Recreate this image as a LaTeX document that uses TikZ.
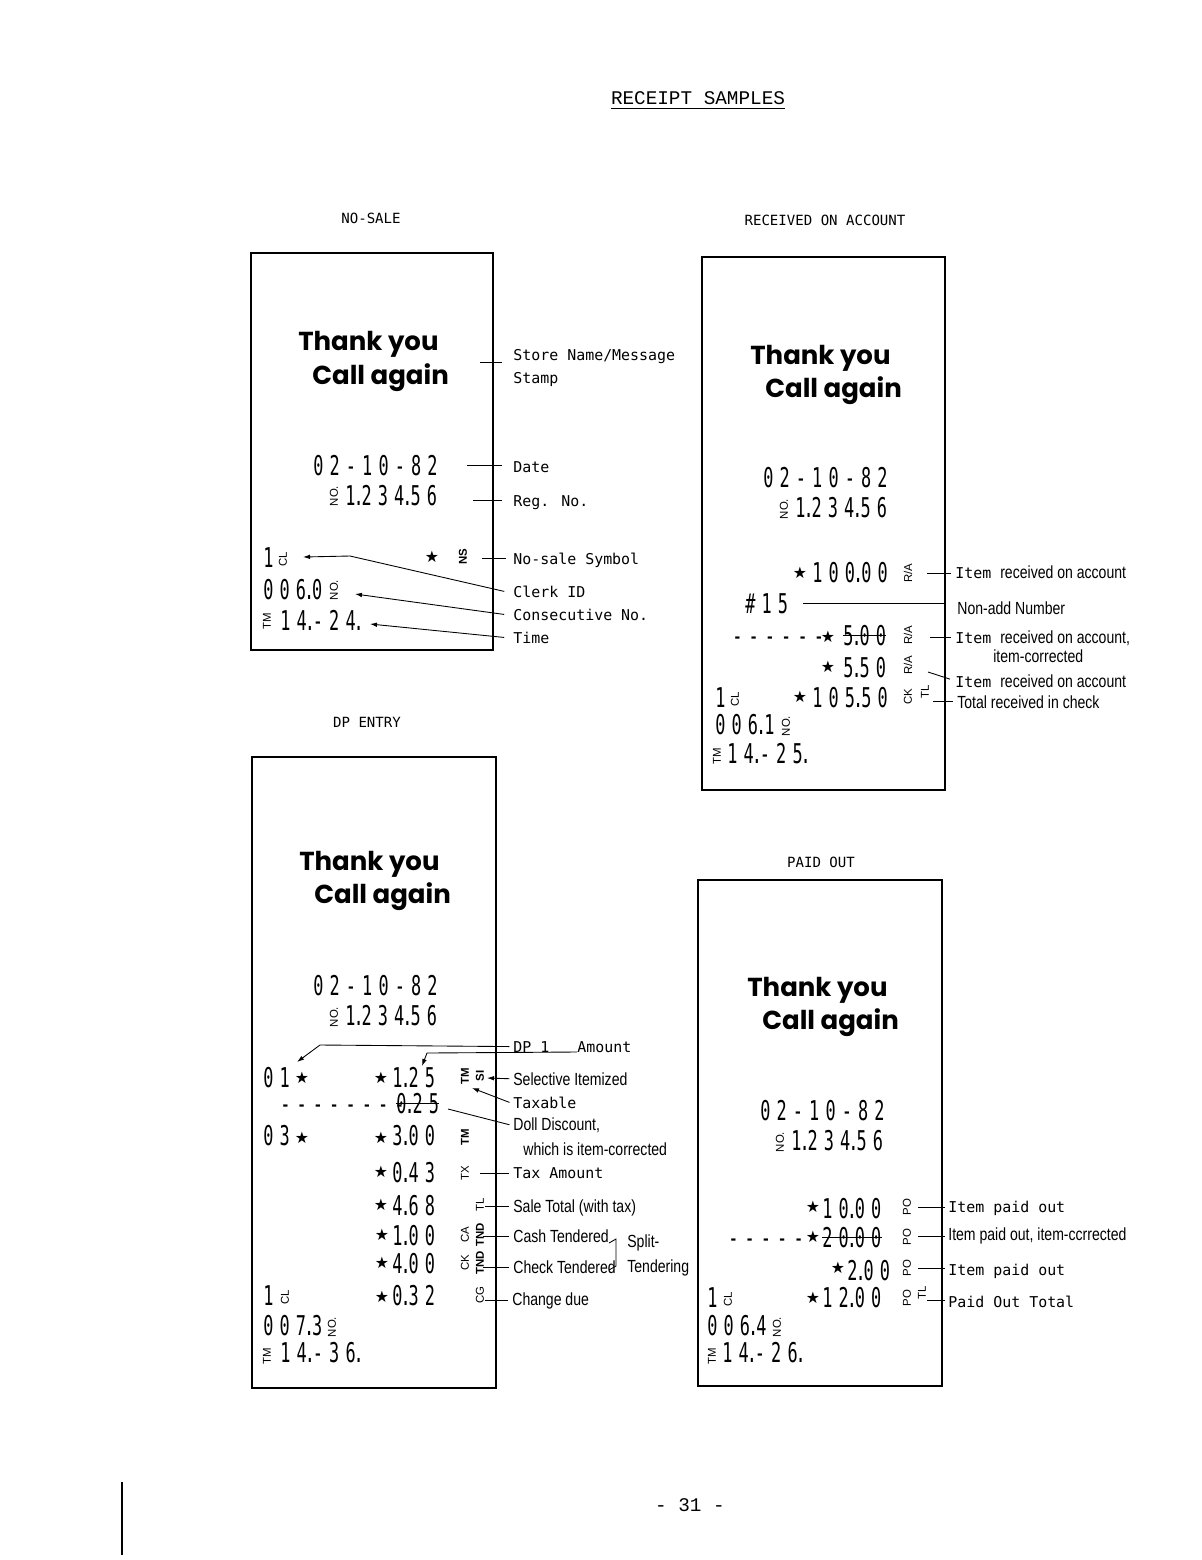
\documentclass[tikz,border=0pt]{standalone}
\usepackage{fontspec}
\usepackage{tikz}
\usetikzlibrary{positioning,arrows.meta}
\newfontfamily\lblfont{DejaVu Sans Mono}[Ligatures=TeXOff]
\newfontfamily\narrowfont{Liberation Sans}[FakeStretch=0.8]
\newfontfamily\rcptfont{DejaVu Sans Mono}[FakeStretch=0.62,LetterSpace=22.5,Ligatures=TeXOff]
\newfontfamily\msgfont{Poppins}
\newfontfamily\tagfont{Liberation Sans}
\newfontfamily\symfont{DejaVu Sans}
\newfontfamily\titlefont{Liberation Mono}[Ligatures=TeXOff]
\newcommand{\dt}{\makebox[3.5pt]{.}}
\newcommand{\nf}{\narrowfont\fontsize{10}{12}\selectfont}

\begin{document}
\begin{tikzpicture}[
            x=0.02cm, y=-0.02cm,
            rbox/.style={draw, line width=0.8pt},
            head/.style={font=\lblfont\fontsize{8}{10}\selectfont, inner sep=0pt},
            msg/.style={font=\msgfont\bfseries\fontsize{14.8}{16}\selectfont, anchor=base west, inner sep=0pt},
            rc/.style={font=\rcptfont\fontsize{15.5}{16}\selectfont, anchor=base west, inner sep=0pt},
            rstar/.style={font=\symfont\fontsize{9}{9}\selectfont, inner sep=0pt},
            vtag/.style={font=\tagfont\fontsize{6.5}{7}\selectfont, rotate=90, inner sep=0pt},
            btag/.style={vtag, font=\tagfont\bfseries\fontsize{6.5}{7}\selectfont},
            lbl/.style={font=\lblfont\fontsize{8.5}{11}\selectfont, anchor=base west, inner sep=0pt},
            nlbl/.style={font=\nf, anchor=base west, inner sep=0pt},
            tick/.style={line width=0.5pt},
            arr/.style={tick, -{Latex[length=4pt,width=2.6pt]}}
        ]
            \useasboundingbox (0,0) rectangle (1202,1560);

            \node[font=\titlefont\fontsize{11}{13}\selectfont, inner sep=0pt, anchor=base] (title) at (698,104) {RECEIPT SAMPLES};
            \draw[line width=0.7pt] ([yshift=-2.5pt]title.base west) -- ([yshift=-2.5pt]title.base east);
            \node[head] (hNoSale) at (371,218) {NO-SALE};
            \node[head] (hRA) at (825,220) {RECEIVED ON ACCOUNT};
            \node[head] (hDP) at (367,722) {DP ENTRY};
            \node[head] (hPO) at (821,862) {PAID OUT};

            % no-sale
            \draw[rbox] (251,253) rectangle (493,650);
            \node[msg] (ty1) at (298,350) {Thank you};
            \node[msg] (ca1) at (312,384) {Call again};
            \node[rc] (date1) at (313,475) {02-10-82};
            \node[vtag] (rno1) at (334,496) {NO.};
            \node[rc] (reg1) at (345,505) {1\dt234\dt56};
            \node[rc] (clk1) at (263,567) {1};
            \node[vtag] (cl1) at (283,559) {CL};
            \node[rstar] (sns1) at (432,557) {★};
            \node[btag] (ns1) at (463,557) {NS};
            \node[rc] (cons1) at (263,599) {006\dt0};
            \node[vtag] (no1) at (334,590) {NO.};
            \node[vtag] (tm1) at (267,621) {TM};
            \node[rc] (time1) at (280,630) {14\dt-24\dt};

            \node[lbl] (lbStore) at (513,360) {Store Name/Message};
            \node[lbl] (lbStamp) at (513,383) {Stamp};
            \node[lbl] (lbDate) at (513,472) {Date};
            \node[lbl] (lbReg) at (513,506) {Reg. No.};
            \node[lbl] (lbNS) at (513,564) {No-sale Symbol};
            \node[lbl] (lbClerk) at (513,597) {Clerk ID};
            \node[lbl] (lbCons) at (513,620) {Consecutive No.};
            \node[lbl] (lbTime) at (513,643) {Time};

            \coordinate (kStore) at (480,362);
            \coordinate (kDate) at (467,465);
            \coordinate (kReg) at (473,500);
            \coordinate (kNS) at (482,558);
            \coordinate (tipClerk) at (303,557);
            \coordinate (tipCons) at (355,594);
            \coordinate (tipTime) at (370,624);
            \draw[tick, shorten >=6pt] (kStore) -- (kStore -| lbStore.west);
            \draw[tick, shorten >=6pt] (kDate) -- (kDate -| lbDate.west);
            \draw[tick, shorten >=6pt] (kReg) -- (kReg -| lbReg.west);
            \draw[tick, shorten >=4pt] (kNS) -- (kNS -| lbNS.west);
            \draw[arr] ([xshift=-5pt]lbClerk.west) -- (350,556) -- (tipClerk);
            \draw[arr] ([xshift=-5pt]lbCons.west) -- (tipCons);
            \draw[arr] ([xshift=-5pt]lbTime.west) -- (tipTime);

            % received on account
            \draw[rbox] (702,257) rectangle (945,790);
            \node[msg] (ty2) at (750,364) {Thank you};
            \node[msg] (ca2) at (765,397) {Call again};
            \node[rc] (date2) at (763,487) {02-10-82};
            \node[vtag] (rno2) at (784,509) {NO.};
            \node[rc] (reg2) at (795,517) {1\dt234\dt56};
            \node[rstar] (s2a) at (800,573) {★};
            \node[rc] (amt2a) at (812,582) {100\dt00};
            \node[vtag] (ra2a) at (908,573) {R/A};
            \node[rc] (nadd2) at (745,613) {\#15};
            \node[rc] (dash2) at (732,645) {------};
            \node[rstar] (s2b) at (828,637) {★};
            \node[rc] (amt2b) at (843,645) {5\dt00};
            \draw[tick] (amt2b.west) -- (amt2b.east);
            \node[vtag] (ra2b) at (908,635) {R/A};
            \node[rstar] (s2c) at (828,667) {★};
            \node[rc] (amt2c) at (843,677) {5\dt50};
            \node[vtag] (ra2c) at (908,665) {R/A};
            \node[rc] (clk2) at (715,707) {1};
            \node[vtag] (cl2) at (735,699) {CL};
            \node[rstar] (s2d) at (800,697) {★};
            \node[rc] (amt2d) at (812,707) {105\dt50};
            \node[vtag] (ck2) at (908,697) {CK};
            \node[vtag] (tl2) at (925,692) {TL};
            \node[rc] (cons2) at (715,734) {006\dt1};
            \node[vtag] (no2) at (786,726) {NO.};
            \node[vtag] (tm2) at (717,756) {TM};
            \node[rc] (time2) at (727,763) {14\dt-25\dt};

            \node[lbl] (lbRA1) at (955,578) {Item \nf received on account};
            \node[nlbl] (lbNonAdd) at (957,614) {Non-add Number};
            \node[lbl] (lbRA2) at (955,643) {Item \nf received on account,};
            \node[nlbl] (lbRA2b) at (993,662) {item-corrected};
            \node[lbl] (lbRA3) at (955,687) {Item \nf received on account};
            \node[nlbl] (lbCheck) at (957,708) {Total received in check};

            \coordinate (kRA1) at (927,573);
            \coordinate (kRA2) at (930,637);
            \coordinate (kRA3) at (928,672);
            \coordinate (kCheck) at (933,701);
            \draw[tick, shorten >=2pt] (kRA1) -- (kRA1 -| lbRA1.west);
            \draw[tick, shorten <=8pt, shorten >=6pt] (nadd2.east) -- (nadd2.east -| lbNonAdd.west);
            \draw[tick, shorten >=2pt] (kRA2) -- (kRA2 -| lbRA2.west);
            \draw[tick, shorten >=3pt] (kRA3) -- (lbRA3.west);
            \draw[tick, shorten >=2pt] (kCheck) -- (kCheck -| lbCheck.west);

            % dp entry
            \draw[rbox] (252,757) rectangle (496,1388);
            \node[msg] (ty3) at (299,870) {Thank you};
            \node[msg] (ca3) at (314,903) {Call again};
            \node[rc] (date3) at (313,995) {02-10-82};
            \node[vtag] (rno3) at (334,1017) {NO.};
            \node[rc] (reg3) at (345,1025) {1\dt234\dt56};
            \node[rc] (dp01) at (263,1087) {01};
            \node[rstar] (s3a) at (302,1078) {★};
            \node[rstar] (s3b) at (381,1078) {★};
            \node[rc] (amt3a) at (392,1087) {1\dt25};
            \node[btag] (tm3a) at (465,1076) {TM};
            \node[btag] (si3) at (480,1076) {SI};
            \node[rc] (dash3) at (280,1113) {--------};
            \node[rc] (amt3b) at (396,1113) {0\dt25};
            \draw[tick] (amt3b.west) -- (amt3b.east);
            \node[rc] (dp03) at (263,1145) {03};
            \node[rstar] (s3c) at (302,1138) {★};
            \node[rstar] (s3d) at (381,1138) {★};
            \node[rc] (amt3c) at (392,1145) {3\dt00};
            \node[btag] (tm3b) at (465,1137) {TM};
            \node[rstar] (s3e) at (381,1172) {★};
            \node[rc] (amt3d) at (392,1182) {0\dt43};
            \node[vtag] (tx3) at (465,1173) {TX};
            \node[rstar] (s3f) at (381,1205) {★};
            \node[rc] (amt3e) at (392,1215) {4\dt68};
            \node[vtag] (tl3) at (480,1205) {TL};
            \node[rstar] (s3g) at (382,1235) {★};
            \node[rc] (amt3f) at (392,1245) {1\dt00};
            \node[vtag] (ca3t) at (465,1235) {CA};
            \node[btag] (tnd3a) at (480,1235) {TND};
            \node[rstar] (s3h) at (382,1263) {★};
            \node[rc] (amt3g) at (392,1273) {4\dt00};
            \node[vtag] (ck3) at (465,1263) {CK};
            \node[btag] (tnd3b) at (480,1263) {TND};
            \node[rc] (clk3) at (263,1305) {1};
            \node[vtag] (cl3) at (285,1297) {CL};
            \node[rstar] (s3i) at (382,1297) {★};
            \node[rc] (amt3h) at (392,1305) {0\dt32};
            \node[vtag] (cg3) at (480,1295) {CG};
            \node[rc] (cons3) at (263,1335) {007\dt3};
            \node[vtag] (no3) at (332,1327) {NO.};
            \node[vtag] (tm3c) at (267,1356) {TM};
            \node[rc] (time3) at (280,1362) {14\dt-36\dt};

            \node[lbl] (lbDP) at (513,1052) {DP 1};
            \node[lbl] (lbAmt) at (577,1052) {Amount};
            \node[nlbl] (lbSI) at (513,1085) {Selective Itemized};
            \node[lbl] (lbTax) at (513,1108) {Taxable};
            \node[nlbl] (lbDoll) at (513,1130) {Doll Discount,};
            \node[nlbl] (lbDoll2) at (523,1155) {which is item-corrected};
            \node[lbl] (lbTaxAmt) at (513,1178) {Tax Amount};
            \node[nlbl] (lbSale) at (513,1212) {Sale Total (with tax)};
            \node[nlbl] (lbCash) at (513,1242) {Cash Tendered};
            \node[nlbl] (lbCheck3) at (513,1273) {Check Tendered};
            \node[nlbl] (lbSplit) at (627,1247) {Split-};
            \node[nlbl] (lbTend) at (627,1272) {Tendering};
            \node[nlbl] (lbChange) at (512,1305) {Change due};

            \coordinate (tipDP) at (297,1062);
            \coordinate (tipAmt) at (422,1066);
            \coordinate (tipSI) at (487,1078);
            \coordinate (tipTax) at (472,1088);
            \coordinate (kDoll) at (448,1109);
            \coordinate (kTaxAmt) at (480,1173);
            \coordinate (kSale) at (485,1206);
            \coordinate (kCash) at (483,1236);
            \coordinate (kCheck3) at (483,1267);
            \coordinate (kChange) at (485,1300);
            \draw[arr] ([xshift=-2pt]lbDP.west) -- (320,1045) -- (tipDP);
            \draw[arr] (lbAmt.base west) -- (427,1053) -- (tipAmt);
            \draw[arr] ([xshift=-2pt]lbSI.west) -- (tipSI);
            \draw[arr] ([xshift=-2pt]lbTax.west) -- (tipTax);
            \draw[tick] (kDoll) -- ([xshift=-2pt]lbDoll.west);
            \draw[tick, shorten >=2pt] (kTaxAmt) -- (kTaxAmt -| lbTaxAmt.west);
            \draw[tick, shorten >=2pt] (kSale) -- (kSale -| lbSale.west);
            \draw[tick, shorten >=2pt] (kCash) -- (kCash -| lbCash.west);
            \draw[tick, shorten >=2pt] (kCheck3) -- (kCheck3 -| lbCheck3.west);
            \draw[tick, shorten >=2pt] (kChange) -- (kChange -| lbChange.west);
            \draw[tick] (609,1243) -- (616,1239) -- (616,1266) -- (609,1270);

            % paid out
            \draw[rbox] (698,880) rectangle (942,1386);
            \node[msg] (ty4) at (747,996) {Thank you};
            \node[msg] (ca4) at (762,1029) {Call again};
            \node[rc] (date4) at (760,1120) {02-10-82};
            \node[vtag] (rno4) at (780,1142) {NO.};
            \node[rc] (reg4) at (791,1150) {1\dt234\dt56};
            \node[rstar] (s4a) at (813,1207) {★};
            \node[rc] (amt4a) at (822,1218) {10\dt00};
            \node[vtag] (po4a) at (907,1207) {PO};
            \node[rc] (dash4) at (728,1247) {-----};
            \node[rstar] (s4b) at (813,1237) {★};
            \node[rc] (amt4b) at (822,1247) {20\dt00};
            \draw[tick] (amt4b.west) -- (amt4b.east);
            \node[vtag] (po4b) at (907,1237) {PO};
            \node[rstar] (s4c) at (838,1268) {★};
            \node[rc] (amt4c) at (847,1280) {2\dt00};
            \node[vtag] (po4c) at (907,1268) {PO};
            \node[rc] (clk4) at (707,1307) {1};
            \node[vtag] (cl4) at (728,1299) {CL};
            \node[rstar] (s4d) at (813,1298) {★};
            \node[rc] (amt4d) at (822,1307) {12\dt00};
            \node[vtag] (po4d) at (907,1298) {PO};
            \node[vtag] (tl4) at (922,1293) {TL};
            \node[rc] (cons4) at (707,1335) {006\dt4};
            \node[vtag] (no4) at (777,1327) {NO.};
            \node[vtag] (tm4) at (712,1356) {TM};
            \node[rc] (time4) at (722,1362) {14\dt-26\dt};

            \node[lbl] (lbPO1) at (948,1212) {Item paid out};
            \node[nlbl] (lbPO2) at (948,1240) {Item paid out, item-ccrrected};
            \node[lbl] (lbPO3) at (948,1275) {Item paid out};
            \node[lbl] (lbPOT) at (948,1307) {Paid Out Total};

            \coordinate (kPO1) at (918,1207);
            \coordinate (kPO2) at (918,1236);
            \coordinate (kPO3) at (918,1268);
            \coordinate (kPOT) at (927,1300);
            \draw[tick, shorten >=1.5pt] (kPO1) -- (kPO1 -| lbPO1.west);
            \draw[tick, shorten >=1.5pt] (kPO2) -- (kPO2 -| lbPO2.west);
            \draw[tick, shorten >=1.5pt] (kPO3) -- (kPO3 -| lbPO3.west);
            \draw[tick, shorten >=1.5pt] (kPOT) -- (kPOT -| lbPOT.west);

            \node[font=\titlefont\fontsize{11}{13}\selectfont, inner sep=0pt] (pg) at (690,1505) {- 31 -};
            \draw[line width=0.6pt] (122,1482) -- (122,1555);
        \end{tikzpicture}
\end{document}
